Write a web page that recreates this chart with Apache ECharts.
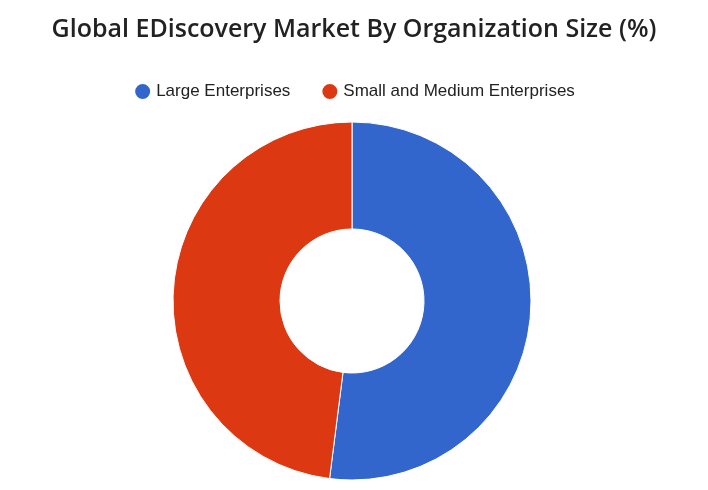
<!DOCTYPE html>
<html><head><meta charset="utf-8">
<script src="https://cdn.jsdelivr.net/npm/echarts@6/dist/echarts.min.js"></script>
<style>html,body{margin:0;padding:0;background:#fff}#c{width:708px;height:490px}</style>
</head><body><div id="c"></div>
<script>
const categories = ["Large Enterprises", "Small and Medium Enterprises"];
const values = [52, 48];
const colors = ["#3366cc", "#dc3912"];
const chart = echarts.init(document.getElementById('c'));
chart.setOption({
  animation: false,
  title: { text: "Global EDiscovery Market By Organization Size (%)", left: 'center', top: 12,
    textStyle: { fontFamily: "Open Sans", fontSize: 25, fontWeight: 600, color: "#222" } },
  legend: { top: 77, left: 'center', icon: 'circle', itemWidth: 17, itemHeight: 17, itemGap: 30,
    textStyle: { fontFamily: "Liberation Sans", fontSize: 17, color: "#222" } },
  color: colors,
  series: [{
    type: 'pie', center: [352, 301], radius: [72, 179], startAngle: 90, clockwise: true,
    label: { show: false }, labelLine: { show: false },
    itemStyle: { borderColor: '#fff', borderWidth: 1 },
    data: categories.map((n, i) => ({ name: n, value: values[i] }))
  }]
});
</script></body></html>
